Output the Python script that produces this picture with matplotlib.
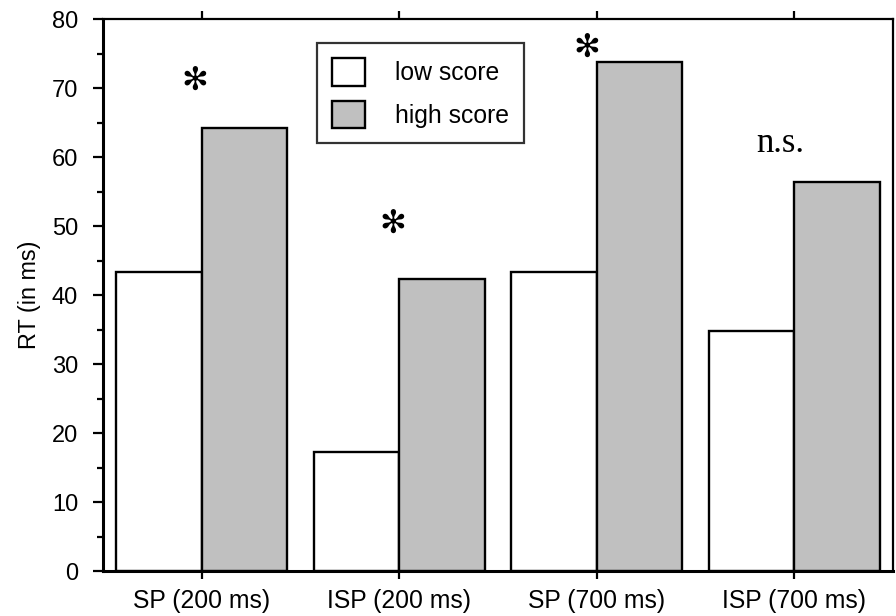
import matplotlib
matplotlib.use("Agg")
import matplotlib.pyplot as plt
import numpy as np
from matplotlib.ticker import MultipleLocator

plt.rcParams['font.family'] = ['Liberation Sans', 'DejaVu Sans']

# data
conditions = ["SP (200 ms)", "ISP (200 ms)", "SP (700 ms)", "ISP (700 ms)"]
low_score = [43.3, 17.3, 43.3, 34.8]
high_score = [64.2, 42.4, 73.8, 56.4]
marks = ["\u273b", "\u273b", "\u273b", "n.s."]
mark_x = [-0.035, 0.965, 1.95, 2.93]
mark_y = [71.0, 50.3, 75.7, 62.0]

x = np.arange(len(conditions))
w = 0.432

fig = plt.figure(figsize=(8.96, 6.16), dpi=100)
ax = fig.add_axes([0.115, 0.073, 0.8817, 0.896])

ax.bar(x - w, low_score, w, align='edge', color='white', edgecolor='black',
       linewidth=1.7, label='low score')
ax.bar(x, high_score, w, align='edge', color='#c0c0c0', edgecolor='black',
       linewidth=1.7, label='high score')

for m, mx, my in zip(marks, mark_x, mark_y):
    if m == "n.s.":
        ax.text(mx, my, m, ha='center', va='center', fontsize=25,
                family='Liberation Serif')
    else:
        ax.text(mx, my, m, ha='center', va='center', fontsize=23,
                family='DejaVu Sans', fontweight='bold')

ax.set_xlim(-0.5, 3.5)
ax.set_ylim(0, 80)
ax.set_xticks(x)
ax.set_xticklabels(conditions, fontsize=17.8)
ax.yaxis.set_major_locator(MultipleLocator(10))
ax.yaxis.set_minor_locator(MultipleLocator(5))
ax.tick_params(axis='y', which='major', direction='out', length=7, width=1.6,
               labelsize=17, pad=11, right=False)
ax.tick_params(axis='y', which='minor', direction='out', length=4.5, width=1.6,
               right=False)
ax.tick_params(axis='x', which='major', direction='out', length=6, width=1.6,
               top=True, labeltop=False, pad=7)
ax.set_ylabel("RT (in ms)", fontsize=16.8, labelpad=8)

for side in ['left', 'bottom']:
    ax.spines[side].set_linewidth(2.2)
for side in ['top', 'right']:
    ax.spines[side].set_linewidth(1.6)

leg = ax.legend(loc='upper left', bbox_to_anchor=(0.271, 0.9565), fontsize=17.8,
                frameon=True, fancybox=False, shadow=False, borderpad=0.6,
                handlelength=1.35, handleheight=1.35, handletextpad=1.2,
                labelspacing=0.6, borderaxespad=0)
leg.get_frame().set_edgecolor('black')
leg.get_frame().set_linewidth(1.6)
for h in leg.legend_handles:
    h.set_linewidth(1.7)

fig.savefig("out.png", dpi=100)
